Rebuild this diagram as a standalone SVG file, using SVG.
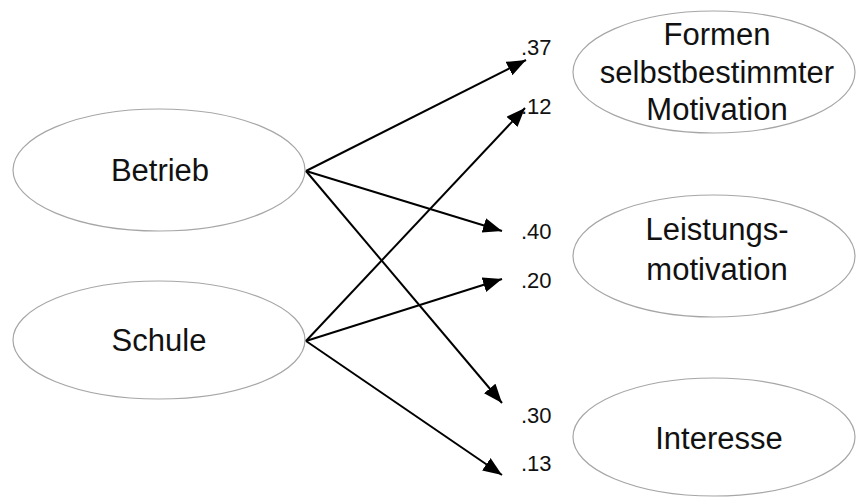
<svg xmlns="http://www.w3.org/2000/svg" width="857" height="497" viewBox="0 0 857 497">
<style>
.node{fill:#fff;stroke:#a6a6a6;stroke-width:1.2}
.t{font-family:"Liberation Sans",Arial,sans-serif;font-size:31px;fill:#111;text-anchor:middle}
.lbl{font-family:"Liberation Sans",Arial,sans-serif;font-size:22px;fill:#111}
.edge{stroke:#000;stroke-width:2;fill:none;marker-end:url(#ah)}
</style>
<defs>
<marker id="ah" markerUnits="userSpaceOnUse" markerWidth="20" markerHeight="16" refX="19" refY="7.5" orient="auto">
<path d="M0,0 L19,7.5 L0,15 z" fill="#000"/>
</marker>
</defs>
<rect width="857" height="497" fill="#fff"/>
<g id="betrieb"><ellipse class="node" cx="159" cy="170" rx="146" ry="61"/><text class="t" x="160" y="181">Betrieb</text></g>
<g id="schule"><ellipse class="node" cx="159" cy="340" rx="146" ry="59"/><text class="t" x="159" y="351">Schule</text></g>
<g id="formen"><ellipse class="node" cx="714" cy="72" rx="141" ry="61"/><text class="t" x="717" y="45">Formen</text><text class="t" x="717" y="83">selbstbestimmter</text><text class="t" x="717" y="120">Motivation</text></g>
<g id="leistung"><ellipse class="node" cx="714" cy="256" rx="141" ry="61"/><text class="t" x="717" y="240">Leistungs-</text><text class="t" x="717" y="280">motivation</text></g>
<g id="interesse"><ellipse class="node" cx="714" cy="437" rx="141" ry="59"/><text class="t" x="719" y="449">Interesse</text></g>
<g id="connectors">
<line class="edge" x1="306" y1="171" x2="526" y2="60"/>
<line class="edge" x1="306" y1="171" x2="502" y2="231"/>
<line class="edge" x1="306" y1="171" x2="502" y2="403"/>
<line class="edge" x1="306" y1="341" x2="525" y2="108"/>
<line class="edge" x1="306" y1="341" x2="502" y2="279"/>
<line class="edge" x1="306" y1="341" x2="502" y2="475"/>
</g>
<g id="labels">
<text class="lbl" x="521" y="55">.37</text>
<text class="lbl" x="521" y="114">.12</text>
<text class="lbl" x="521" y="239">.40</text>
<text class="lbl" x="521" y="288">.20</text>
<text class="lbl" x="521" y="423">.30</text>
<text class="lbl" x="521" y="471">.13</text>
</g>
</svg>
